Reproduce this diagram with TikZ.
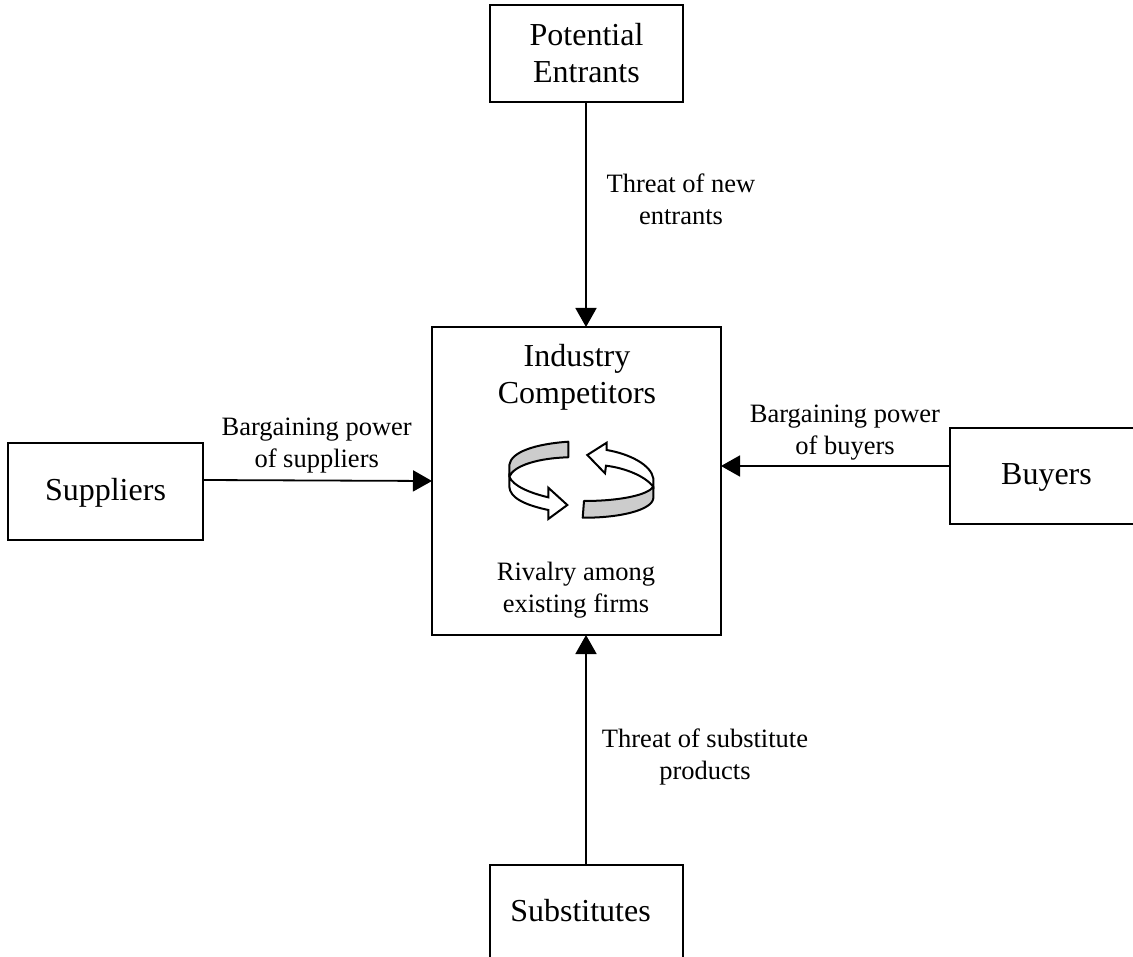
\documentclass[tikz,border=0pt]{standalone}
\usepackage{fontspec}
\setmainfont{Liberation Serif}
\usetikzlibrary{arrows.meta}
\tikzset{
  x=1pt,y=-1pt,
  box/.style={draw=black,line width=1.8pt,fill=white,align=center,inner sep=0pt,outer sep=0pt,font=\fontsize{32}{37}\selectfont},
  biglabel/.style={align=center,inner sep=0pt,font=\fontsize{32}{37}\selectfont},
  smalllabel/.style={align=center,inner sep=0pt,font=\fontsize{26.5}{32}\selectfont},
  conn/.style={draw=black,line width=1.8pt,-{Triangle[length=19pt,width=21pt]}},
  ribbon/.style={draw=black,line width=2pt,line join=round,fill=black!20},
  arrowband/.style={draw=black,line width=2pt,line join=miter,fill=white}
}
\begin{document}
\begin{tikzpicture}
\useasboundingbox (0,0) rectangle (1133,957);
\clip (0,0) rectangle (1133,957);
\node[box,minimum width=193pt,minimum height=97pt] (pot) at (586.5,53.5) {Potential\\Entrants};
\node[box,minimum width=289pt,minimum height=308pt] (ind) at (576.5,481) {};
\node[box,minimum width=195pt,minimum height=97pt] (sup) at (105.5,491.5) {\raisebox{-9pt}[0pt][0pt]{Suppliers}};
\node[box,minimum width=190pt,minimum height=96pt] (buy) at (1045,476) {\hspace{3pt}\raisebox{-9pt}[0pt][0pt]{Buyers}};
\node[box,minimum width=193pt,minimum height=100pt] (sub) at (586.5,915) {\hspace{-12pt}\raisebox{-6pt}[0pt][0pt]{Substitutes}};
\node[biglabel] (indt) at (577,377) {Industry\\Competitors};
\node[smalllabel] (riv) at (576,590) {Rivalry among\\existing firms};
\node[smalllabel] (tne) at (681,199.5) {Threat of new\\entrants};
\node[smalllabel] (bps) at (316.7,446) {Bargaining power\\of suppliers};
\node[smalllabel] (bpb) at (845,433) {Bargaining power\\of buyers};
\node[smalllabel] (tsp) at (705,757) {Threat of substitute\\products};
\draw[conn] ([xshift=-0.5pt]pot.south) -- ([xshift=9.5pt]ind.north);
\draw[conn] ([yshift=11.5pt]sup.east) -- (ind.west);
\draw[conn] ([yshift=10pt]buy.west) -- ([yshift=15pt]ind.east);
\draw[conn] ([xshift=-0.5pt]sub.north) -- ([xshift=9.5pt]ind.south);
% rotating arrows
\path[ribbon] (568.3,441.7) .. controls (535,444) and (511,452) .. (509.3,465) -- (509.3,476.7) .. controls (514,465) and (540,458) .. (568.3,457.3) -- cycle;
\path[arrowband] (509.3,476.7) .. controls (513,486) and (530,493) .. (548.3,497.3) -- (548.3,487.7) -- (567.3,505) -- (548.3,519) -- (548.3,510) .. controls (525,505) and (510,498) .. (509.3,486.7) -- cycle;
\path[arrowband] (587.3,455) -- (606.7,442.7) -- (606.7,450) .. controls (630,454) and (651,465) .. (653.3,478.3) -- (653.3,486.7) .. controls (645,476) and (625,468) .. (606,465.7) -- (605,473.3) -- cycle;
\path[ribbon] (653.3,486.7) .. controls (648,495) and (620,501) .. (584,501) -- (582.7,517.7) .. controls (620,518) and (652,510) .. (653.3,498.3) -- cycle;
\end{tikzpicture}
\end{document}
